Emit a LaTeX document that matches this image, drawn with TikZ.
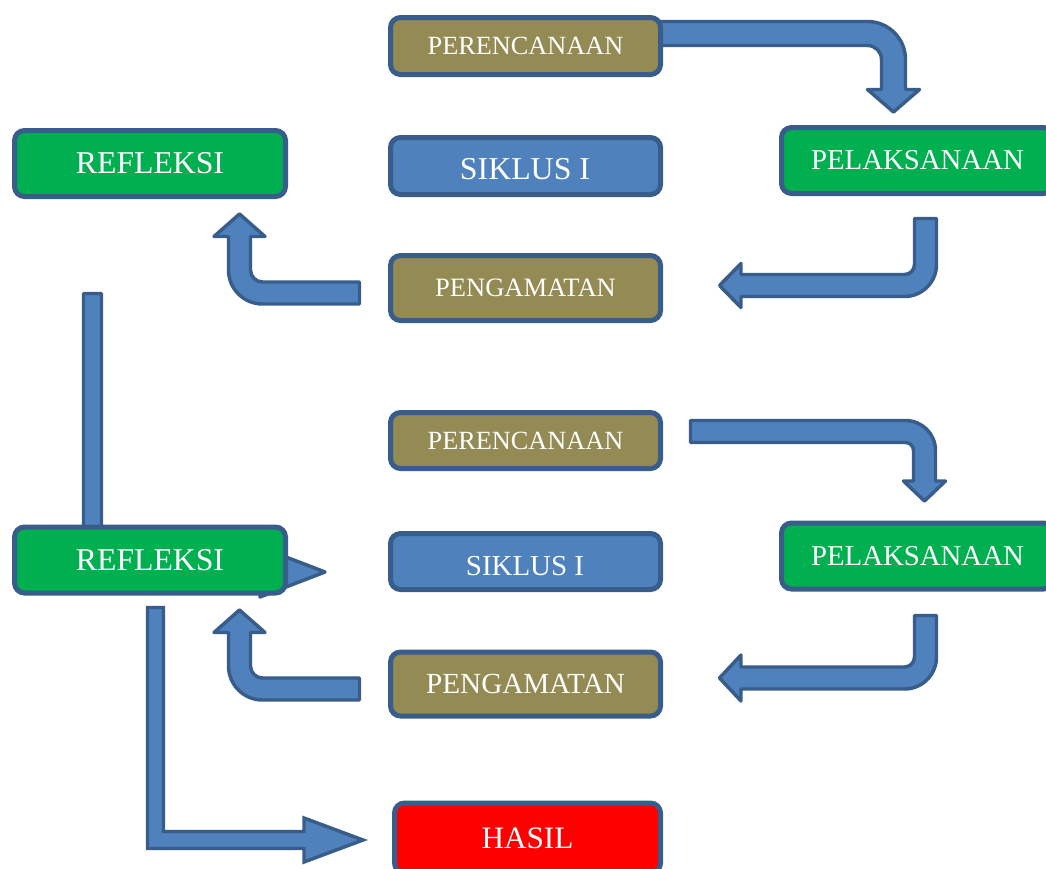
\documentclass[tikz,border=0pt]{standalone}
\usepackage{fontspec}
\setmainfont{Liberation Serif}
\definecolor{arrowfill}{HTML}{4F81BD}
\definecolor{arrowline}{HTML}{385D8A}
\definecolor{olivebox}{HTML}{948A54}
\definecolor{greenbox}{HTML}{00B050}
\definecolor{redbox}{HTML}{FF0000}
\begin{document}
\begin{tikzpicture}[x=0.75pt,y=-0.75pt,
  blockarrow/.style={fill=arrowfill,draw=arrowline,line width=2.6pt,line join=round},
  boxbase/.style={draw=arrowline,line width=3.75pt,rounded corners=7.5pt,text=white,inner sep=0pt},
  olivestyle/.style={boxbase,fill=olivebox},
  greenstyle/.style={boxbase,fill=greenbox},
  bluestyle/.style={boxbase,fill=arrowfill},
  redstyle/.style={boxbase,fill=redbox}]
\useasboundingbox (0,0) rectangle (1046,868);
\clip (0,0) rectangle (1046,868);
% ---- block arrows (behind boxes)
% PERENCANAAN I -> PELAKSANAAN I
\draw[blockarrow] (650,21.5) -- (867.5,21.5) arc[start angle=270,end angle=360,radius=38]
  -- (905.5,89.5) -- (919.5,89.5) -- (893.5,112) -- (867.5,89.5) -- (881.5,89.5)
  -- (881.5,59.5) arc[start angle=0,end angle=-90,radius=14] -- (650,45.5) -- cycle;
% PELAKSANAAN I -> PENGAMATAN I
\draw[blockarrow] (914.5,218.5) -- (936.5,218.5) -- (936.5,264.5) arc[start angle=0,end angle=90,radius=32]
  -- (741,296.5) -- (741,307.5) -- (719.5,285.5) -- (741,263.5) -- (741,274.5)
  -- (904.5,274.5) arc[start angle=90,end angle=0,radius=10] -- cycle;
% PENGAMATAN I -> REFLEKSI I
\draw[blockarrow] (359.5,304) -- (262.5,304) arc[start angle=90,end angle=180,radius=34]
  -- (228.5,236.5) -- (214,236.5) -- (239.5,214) -- (265,236.5) -- (250.5,236.5)
  -- (250.5,270) arc[start angle=180,end angle=90,radius=12] -- (359.5,282) -- cycle;
% REFLEKSI I -> REFLEKSI II / SIKLUS II
\draw[blockarrow] (83.5,293.5) -- (101.5,293.5) -- (101.5,561) -- (260,561) -- (260,547)
  -- (325,572) -- (260,597) -- (260,583) -- (83.5,583) -- cycle;
% PERENCANAAN II -> PELAKSANAAN II
\draw[blockarrow] (690.5,420.5) -- (905.5,420.5) arc[start angle=270,end angle=360,radius=30]
  -- (935.5,481) -- (945.5,481) -- (924.5,501) -- (903.5,481) -- (913.5,481)
  -- (913.5,450.5) arc[start angle=0,end angle=-90,radius=8] -- (690.5,442.5) -- cycle;
% PELAKSANAAN II -> PENGAMATAN II
\draw[blockarrow] (914.5,615.5) -- (936.5,615.5) -- (936.5,657) arc[start angle=0,end angle=90,radius=32]
  -- (741,689) -- (741,701) -- (719.5,678) -- (741,655) -- (741,667)
  -- (904.5,667) arc[start angle=90,end angle=0,radius=10] -- cycle;
% PENGAMATAN II -> REFLEKSI II
\draw[blockarrow] (359.5,700) -- (262.5,700) arc[start angle=90,end angle=180,radius=34]
  -- (228.5,632.5) -- (214,632.5) -- (239.5,610) -- (265,632.5) -- (250.5,632.5)
  -- (250.5,666) arc[start angle=180,end angle=90,radius=12] -- (359.5,678) -- cycle;
% REFLEKSI II -> HASIL
\draw[blockarrow,line join=miter] (147.5,607.5) -- (163.5,607.5) -- (163.5,831.5) -- (304,831.5) -- (304,818)
  -- (363,840) -- (304,862) -- (304,848.5) -- (147.5,848.5) -- cycle;
% ---- boxes
\node[olivestyle,minimum width=270*0.75pt,minimum height=57*0.75pt,font=\fontsize{19.7}{22}\selectfont] (per1) at (525.5,46) {PERENCANAAN};
\node[bluestyle,minimum width=270*0.75pt,minimum height=57*0.75pt] (sik1) at (525.5,166) {};
\node[text=white,inner sep=0pt,font=\fontsize{23.9}{26}\selectfont] (sik1t) at (525,169) {SIKLUS I};
\node[olivestyle,minimum width=270*0.75pt,minimum height=65*0.75pt,font=\fontsize{19.9}{22}\selectfont] (pen1) at (525.5,288) {PENGAMATAN};
\node[greenstyle,minimum width=271*0.75pt,minimum height=66*0.75pt,font=\fontsize{23.8}{26}\selectfont] (ref1) at (150,163.5) {REFLEKSI};
\node[greenstyle,minimum width=272*0.75pt,minimum height=66*0.75pt,font=\fontsize{21.6}{24}\selectfont] (pel1) at (917.5,160.5) {PELAKSANAAN};
\node[olivestyle,minimum width=270*0.75pt,minimum height=56*0.75pt,font=\fontsize{19.7}{22}\selectfont] (per2) at (525.5,440.5) {PERENCANAAN};
\node[bluestyle,minimum width=270*0.75pt,minimum height=56*0.75pt] (sik2) at (525.5,561.5) {};
\node[text=white,inner sep=0pt,font=\fontsize{21.7}{24}\selectfont] (sik2t) at (525,566) {SIKLUS I};
\node[olivestyle,minimum width=270*0.75pt,minimum height=64*0.75pt,font=\fontsize{21.9}{24}\selectfont] (pen2) at (525.5,684) {PENGAMATAN};
\node[greenstyle,minimum width=271*0.75pt,minimum height=66*0.75pt,font=\fontsize{23.8}{26}\selectfont] (ref2) at (150,560) {REFLEKSI};
\node[greenstyle,minimum width=272*0.75pt,minimum height=66*0.75pt,font=\fontsize{21.6}{24}\selectfont] (pel2) at (917.5,556) {PELAKSANAAN};
\node[redstyle,minimum width=266*0.75pt,minimum height=70*0.75pt,font=\fontsize{23.4}{26}\selectfont] (hasil) at (527.5,838) {HASIL};
\end{tikzpicture}
\end{document}
